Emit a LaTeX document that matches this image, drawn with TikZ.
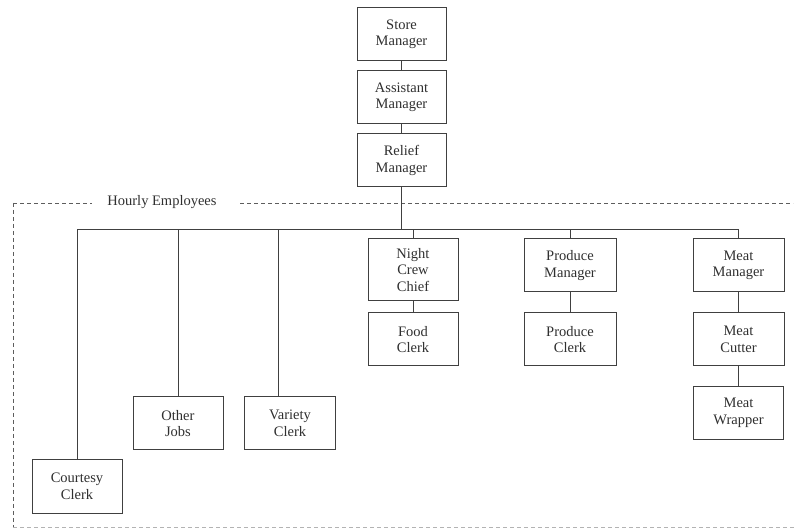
\documentclass[tikz,border=0pt]{standalone}
\usepackage{fontspec}
\setmainfont{Liberation Serif}
\definecolor{ln}{HTML}{404040}
\definecolor{tx}{HTML}{303030}
\tikzset{
  box/.style={draw=ln, line width=1pt, fill=white, minimum width=89pt, minimum height=53pt,
    inner sep=0pt, align=center, text=tx, font=\fontsize{14.5}{16.5}\selectfont},
  conn/.style={draw=ln, line width=1pt},
  dashline/.style={draw=ln!85, line width=0.9pt, dash pattern=on 4pt off 3pt}
}
\begin{document}
\begin{tikzpicture}[x=1pt,y=-1pt]
\useasboundingbox (0,0) rectangle (796,529);
% dashed region
\coordinate (dA) at (13,203);
\coordinate (dB) at (92,203);
\coordinate (dC) at (240,203);
\coordinate (dD) at (793,203);
\coordinate (dE) at (13,527);
\coordinate (dF) at (796,527);
\draw[dashline] (dA) -- (dB);
\draw[dashline] (dC) -- (dD);
\draw[dashline] (dA) -- (dE);
\draw[dashline, draw=ln!40] (dE) -- (dF);
\node[text=tx, font=\fontsize{14.5}{16}\selectfont, inner sep=0pt] (hourly) at (162,202) {Hourly Employees};
% nodes
\node[box] (store) at (401.5,34.5) {Store\\Manager};
\node[box] (asst) at (401.5,97.5) {Assistant\\Manager};
\node[box] (relief) at (401.5,160.5) {Relief\\Manager};
\node[box, minimum width=90pt, minimum height=62pt] (night) at (413,270) {Night\\Crew\\Chief};
\node[box, minimum width=90pt] (food) at (413,339.5) {Food\\Clerk};
\node[box, minimum width=92pt] (prodm) at (570,265.5) {Produce\\Manager};
\node[box, minimum width=92pt] (prodc) at (570,339.5) {Produce\\Clerk};
\node[box, minimum width=91pt] (meatm) at (738.5,265.5) {Meat\\Manager};
\node[box, minimum width=91pt] (meatc) at (738.5,339.5) {Meat\\Cutter};
\node[box, minimum width=90pt] (meatw) at (738.5,413) {Meat\\Wrapper};
\node[box, minimum width=90pt] (other) at (178,423.5) {Other\\Jobs};
\node[box, minimum width=91pt] (variety) at (290,423.5) {Variety\\Clerk};
\node[box, minimum width=90pt] (courtesy) at (77,486.5) {Courtesy\\Clerk};
% connectors
\coordinate (bus) at (401.5,230);
\coordinate (busL) at (77,230);
\coordinate (busR) at (738.5,230);
\coordinate (vdrop) at (278,230);
\draw[conn] (store) -- (asst);
\draw[conn] (asst) -- (relief);
\draw[conn] (relief) -- (bus);
\draw[conn] (busL) -- (busR);
\draw[conn] (busL) -- (courtesy.north);
\draw[conn] (other.north |- bus) -- (other.north);
\draw[conn] (vdrop) -- (vdrop |- variety.north);
\draw[conn] (night.north |- bus) -- (night.north);
\draw[conn] (prodm.north |- bus) -- (prodm.north);
\draw[conn] (busR) -- (meatm.north);
\draw[conn] (night) -- (food);
\draw[conn] (prodm) -- (prodc);
\draw[conn] (meatm) -- (meatc);
\draw[conn] (meatc) -- (meatw);
\end{tikzpicture}
\end{document}
